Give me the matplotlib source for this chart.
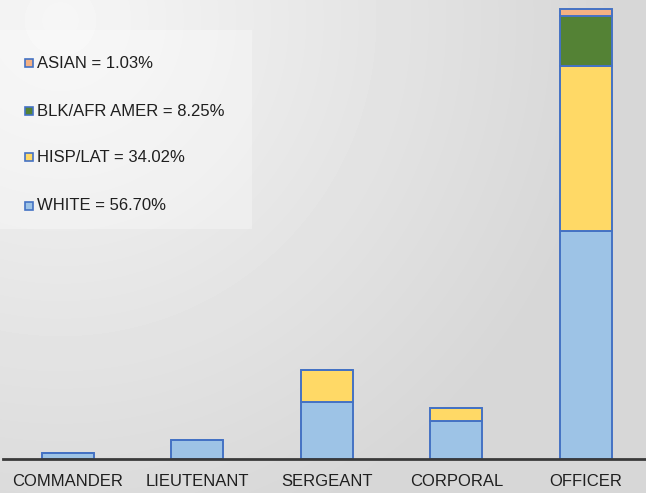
import matplotlib.pyplot as plt
import numpy as np
from matplotlib.patches import Rectangle

plt.rcParams['font.family'] = ['Liberation Sans Narrow', 'Liberation Sans', 'DejaVu Sans']

# Data: head counts per rank, stacked by group
ranks = ["COMMANDER", "LIEUTENANT", "SERGEANT", "CORPORAL", "OFFICER"]
white = [1, 3, 9, 6, 36]
hisp = [0, 0, 5, 2, 26]
black = [0, 0, 0, 0, 8]
asian = [0, 0, 0, 0, 1]
legend_labels = ["ASIAN = 1.03%", "BLK/AFR AMER = 8.25%", "HISP/LAT = 34.02%", "WHITE = 56.70%"]

col_white = "#9DC3E6"
col_hisp = "#FFD966"
col_black = "#548235"
col_asian = "#F4B183"
edge = "#4472C4"

W, H = 646, 493
fig = plt.figure(figsize=(W / 100, H / 100), dpi=100)

# gradient background (light top-left, grey elsewhere)
bg = fig.add_axes([0, 0, 1, 1], zorder=0)
yy, xx = np.mgrid[0:H, 0:W]
d = np.sqrt((xx - 60) ** 2 + (yy - 20) ** 2) / 560.0
d = np.clip(d, 0, 1)
shade = 0.965 - 0.125 * d
bg.imshow(shade, cmap="gray", vmin=0, vmax=1, aspect="auto", extent=[0, W, H, 0])
bg.set_xlim(0, W)
bg.set_ylim(H, 0)
bg.axis("off")

# legend box
bg.add_patch(Rectangle((0, 30), 252, 199, facecolor="white", alpha=0.3, edgecolor="none"))
leg_colors = [col_asian, col_black, col_hisp, col_white]
leg_y = [63, 111, 157, 206]
for lab, c, y in zip(legend_labels, leg_colors, leg_y):
    bg.add_patch(Rectangle((25, y - 4), 8, 8, facecolor=c, edgecolor=edge, linewidth=1.2))
    bg.text(37, y, lab, fontsize=12, color="#1f1f1f", va="center", ha="left")

ax = fig.add_axes([3 / W, 34 / H, (W - 3) / W, 459 / H], zorder=1)
ax.patch.set_alpha(0)
x = np.arange(len(ranks))
bw = 0.40
bot = np.zeros(len(ranks))
for vals, c in [(white, col_white), (hisp, col_hisp), (black, col_black), (asian, col_asian)]:
    v = np.array(vals, dtype=float)
    ax.bar(x, v, bw, bottom=bot, color=c, edgecolor=edge, linewidth=1.4)
    bot += v

ax.set_xlim(-0.5, 4.465)
ax.set_ylim(0, 72.5)
ax.set_xticks(x)
ax.set_xticklabels(ranks, fontsize=12, color="#1f1f1f")
ax.tick_params(axis="x", length=0, pad=11)
ax.set_yticks([])
for s in ["top", "right", "left"]:
    ax.spines[s].set_visible(False)
ax.spines["bottom"].set_color("#3a3a3a")
ax.spines["bottom"].set_linewidth(2)

fig.savefig("out.png", dpi=100)
